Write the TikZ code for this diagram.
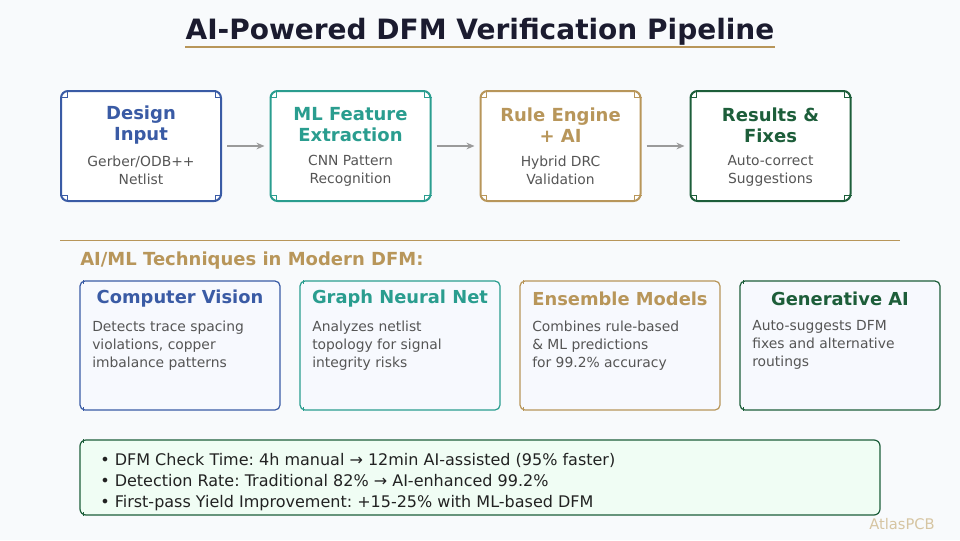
\documentclass[tikz,border=0pt]{standalone}
\usepackage{fontspec}
\setmainfont{DejaVu Sans}
\usetikzlibrary{arrows.meta,positioning}

\definecolor{bgcol}{HTML}{F8FAFC}
\definecolor{titlecol}{HTML}{1B1B2F}
\definecolor{goldcol}{HTML}{B8965A}
\definecolor{bluecol}{HTML}{3A5BA5}
\definecolor{tealcol}{HTML}{2A9D8F}
\definecolor{greencol}{HTML}{1D5E3A}
\definecolor{graytxt}{HTML}{555555}
\definecolor{darktxt}{HTML}{222222}
\definecolor{arrowcol}{HTML}{9A9A9A}
\definecolor{notefill}{HTML}{F0FDF4}
\definecolor{cardfill}{HTML}{F7F9FE}
\definecolor{brandcol}{HTML}{D6C5A2}

\frenchspacing

\tikzset{
  stagebox/.style={draw=#1, line width=1.5pt, rounded corners=5.25pt, fill=white,
    minimum width=120pt, minimum height=82.5pt},
  stagetitle/.style={text=#1, font=\fontsize{13.5}{15.75}\selectfont\bfseries, align=center},
  stagesub/.style={text=graytxt, font=\fontsize{10.4}{13.5}\selectfont, align=center},
  flow/.style={draw=arrowcol, line width=1.5pt, -{Stealth[length=6pt,width=5pt]},
    shorten >=3.75pt, shorten <=3.75pt},
  cardbox/.style={draw=#1, line width=0.9pt, rounded corners=3.75pt, fill=cardfill,
    minimum width=150pt, minimum height=96.75pt},
  cardtitle/.style={text=#1, font=\fontsize{13.4}{15}\selectfont\bfseries},
  cardbody/.style={text=graytxt, font=\fontsize{10.4}{13.5}\selectfont, align=left,
    anchor=north west, inner sep=0pt},
}

% little square marks in the corners of the stage boxes
\newcommand{\stagemarks}[2]{%
  \draw[#2, line width=0.6pt] ([yshift=-5.25pt]#1.north west) -| ([xshift=5.25pt]#1.north west);
  \draw[#2, line width=0.6pt] ([yshift=-5.25pt]#1.north east) -| ([xshift=-5.25pt]#1.north east);
  \draw[#2, line width=0.6pt] ([yshift=5.25pt]#1.south west) -| ([xshift=5.25pt]#1.south west);
  \draw[#2, line width=0.6pt] ([yshift=5.25pt]#1.south east) -| ([xshift=-5.25pt]#1.south east);
}
% short ticks on the left corners of the cards
\newcommand{\cardticks}[2]{%
  \draw[#2, line width=0.6pt] ([xshift=3pt]#1.north west) -- ++(0,-3pt);
  \draw[#2, line width=0.6pt] ([xshift=3pt]#1.south west) -- ++(0,3pt);
}

\begin{document}
\begin{tikzpicture}[x=0.75pt, y=-0.75pt]
  \fill[bgcol] (0,0) rectangle (960,540);

  %% title
  \node[inner sep=0pt, text=titlecol, font=\fontsize{21}{25}\selectfont\bfseries] (title) at (480,32)
    {AI-Powered DFM Verification Pipeline};
  \draw[goldcol, line width=1.5pt] ([yshift=-1pt]title.south west) -- ([yshift=-1pt]title.south east);

  %% pipeline
  \node[stagebox=bluecol] (design) at (141,146) {};
  \node[stagebox=tealcol] (feature) at (350.5,146) {};
  \node[stagebox=goldcol] (engine) at (560.5,146) {};
  \node[stagebox=greencol] (results) at (770.5,146) {};

  \stagemarks{design}{bluecol}
  \stagemarks{feature}{tealcol}
  \stagemarks{engine}{goldcol}
  \stagemarks{results}{greencol}

  \node[stagetitle=bluecol] (designT) at (141,125) {Design\\Input};
  \node[stagesub] (designS) at (141,170.5) {Gerber/ODB++\\Netlist};
  \node[stagetitle=tealcol] (featureT) at (350.5,125) {ML Feature\\Extraction};
  \node[stagesub] (featureS) at (350.5,170.5) {CNN Pattern\\Recognition};
  \node[stagetitle=goldcol] (engineT) at (560.5,125) {Rule Engine\\+ AI};
  \node[stagesub] (engineS) at (560.5,170.5) {Hybrid DRC\\Validation};
  \node[stagetitle=greencol] (resultsT) at (770.5,125) {Results \&\\Fixes};
  \node[stagesub] (resultsS) at (770.5,170.5) {Auto-correct\\Suggestions};

  \draw[flow] (design) -- (feature);
  \draw[flow] (feature) -- (engine);
  \draw[flow] (engine) -- (results);

  %% separator
  \coordinate (sepL) at (60,240);
  \coordinate (sepR) at (900,240);
  \draw[goldcol, line width=0.75pt] (sepL) -- (sepR);

  \node[anchor=west, inner sep=0pt, text=goldcol, font=\fontsize{13.5}{15}\selectfont\bfseries] (techhead) at (80,261)
    {AI/ML Techniques in Modern DFM:};

  %% technique cards
  \node[cardbox=bluecol] (vision) at (180,345.5) {};
  \node[cardbox=tealcol] (graph) at (400,345.5) {};
  \node[cardbox=goldcol] (ensemble) at (620,345.5) {};
  \node[cardbox=greencol] (genai) at (840,345.5) {};

  \cardticks{vision}{bluecol}
  \cardticks{graph}{tealcol}
  \cardticks{ensemble}{goldcol}
  \cardticks{genai}{greencol}

  \node[cardtitle=bluecol] (visionT) at (180,299) {Computer Vision};
  \node[cardtitle=tealcol] (graphT) at (400,299) {Graph Neural Net};
  \node[cardtitle=goldcol] (ensembleT) at (620,299) {Ensemble Models};
  \node[cardtitle=greencol] (genaiT) at (840,299) {Generative AI};

  \node[cardbody] (visionB) at (92,320.5) {Detects trace spacing\\violations, copper\\imbalance patterns};
  \node[cardbody] (graphB) at (312,320.5) {Analyzes netlist\\topology for signal\\integrity risks};
  \node[cardbody] (ensembleB) at (532,320.5) {Combines rule-based\\\& ML predictions\\for 99.2\% accuracy};
  \node[cardbody] (genaiB) at (752,320.5) {Auto-suggests DFM\\fixes and alternative\\routings};

  %% summary box
  \node[draw=greencol, line width=0.9pt, rounded corners=4.5pt, fill=notefill,
    minimum width=600pt, minimum height=56.25pt] (summary) at (480,477.5) {};
  \cardticks{summary}{greencol}
  \node[anchor=west, inner sep=0pt, align=left, text=darktxt,
    font=\fontsize{12}{16}\selectfont] (facts) at (100,482)
    {• DFM Check Time: 4h manual → 12min AI-assisted (95\% faster)\\
     • Detection Rate: Traditional 82\% → AI-enhanced 99.2\%\\
     • First-pass Yield Improvement: +15-25\% with ML-based DFM};

  \node[text=brandcol, font=\fontsize{11}{13}\selectfont, inner sep=0pt] (brand) at (902,524) {AtlasPCB};
\end{tikzpicture}
\end{document}
